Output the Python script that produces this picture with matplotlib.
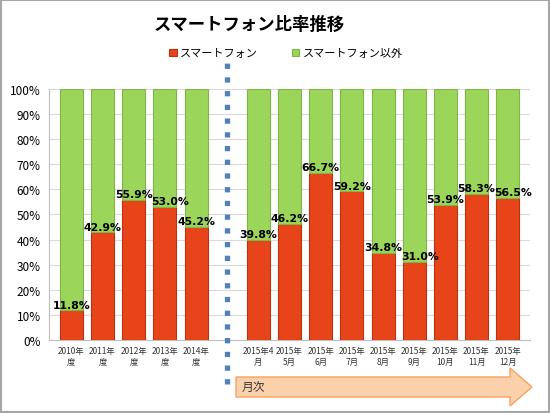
import numpy as np
import matplotlib.pyplot as plt
from matplotlib.patches import FancyArrow, Rectangle
from matplotlib.ticker import PercentFormatter

plt.rcParams['font.family'] = ['Noto Sans CJK JP', 'DejaVu Sans']

# data
year_labels = ['2010年\n度', '2011年\n度', '2012年\n度', '2013年\n度', '2014年\n度']
year_vals = [11.8, 42.9, 55.9, 53.0, 45.2]
month_labels = ['2015年4\n月', '2015年\n5月', '2015年\n6月', '2015年\n7月', '2015年\n8月',
                '2015年\n9月', '2015年\n10月', '2015年\n11月', '2015年\n12月']
month_vals = [39.8, 46.2, 66.7, 59.2, 34.8, 31.0, 53.9, 58.3, 56.5]

labels = year_labels + month_labels
smart = np.array(year_vals + month_vals)
other = 100 - smart
# leave one empty slot between yearly and monthly bars
x = np.concatenate([np.arange(len(year_vals)),
                    np.arange(len(month_vals)) + len(year_vals) + 1])
gap_x = len(year_vals)

red = '#E8441A'
green = '#9BD65A'

fig = plt.figure(figsize=(5.5, 4.14), dpi=100)
ax = fig.add_axes([0.089, 0.176, 0.875, 0.607])

ax.bar(x, smart, width=0.74, color=red, edgecolor='#B8330F', linewidth=0.8,
       label='スマートフォン', zorder=3)
ax.bar(x, other, bottom=smart, width=0.74, color=green, edgecolor='#7FB546',
       linewidth=0.8, label='スマートフォン以外', zorder=3)

for i, (xi, v) in enumerate(zip(x, smart)):
    # nudge a label right when it sits close to the previous one
    dx = 0.0
    if i > 0 and abs(v - smart[i - 1]) < 4 and x[i] - x[i - 1] == 1:
        dx = 0.18
    ax.text(xi + dx, v + 0.3, f'{v:.1f}%', ha='center', va='bottom', fontsize=7.8,
            fontweight='bold', color='black', family=['DejaVu Sans'], zorder=5)

ax.set_xlim(-0.72, 14.72)
ax.set_ylim(0, 100)
ax.set_yticks(np.arange(0, 101, 10))
ax.yaxis.set_major_formatter(PercentFormatter(decimals=0))
ax.set_xticks(x)
ax.set_xticklabels(labels, fontsize=6, color='#333333', linespacing=1.3)
ax.tick_params(axis='y', labelsize=8.5, length=0, pad=6)
ax.tick_params(axis='x', length=0, pad=4)
ax.grid(axis='y', color='#D9D9D9', linewidth=0.8, zorder=0)
for s in ['top', 'right']:
    ax.spines[s].set_visible(False)
ax.spines['left'].set_color('#BFBFBF')
ax.spines['bottom'].set_color('#BFBFBF')

# dotted divider between yearly and monthly
ax.plot([gap_x, gap_x], [-17.5, 111], color='#4F81BD', linewidth=3.8,
        linestyle=(0, (1, 1.6)), clip_on=False, zorder=4)

fig.text(249 / 550, 1 - 25 / 414, 'スマートフォン比率推移', ha='center', va='center',
         fontsize=12.5, fontweight='bold')
fig.legend(loc='upper center', bbox_to_anchor=(0.52, 0.905), ncol=2, frameon=False,
           fontsize=8, handlelength=0.7, handleheight=0.7, columnspacing=3.0,
           handletextpad=0.3)

# "月次" arrow
arrow = FancyArrow(236 / 550, 1 - 388 / 414, 296 / 550, 0, width=20 / 414,
                   head_width=38 / 414, head_length=22 / 550, length_includes_head=True,
                   transform=fig.transFigure, facecolor='#FBD1AC', edgecolor='#F7A162',
                   linewidth=1)
fig.add_artist(arrow)
fig.text(242 / 550, 1 - 388 / 414, '月次', ha='left', va='center', fontsize=8.5,
         color='#333333')

# outer border
fig.add_artist(Rectangle((0.002, 0.002), 0.996, 0.996, transform=fig.transFigure,
                         fill=False, edgecolor='#A6A6A6', linewidth=1.5))

fig.savefig('out.png', dpi=100)
